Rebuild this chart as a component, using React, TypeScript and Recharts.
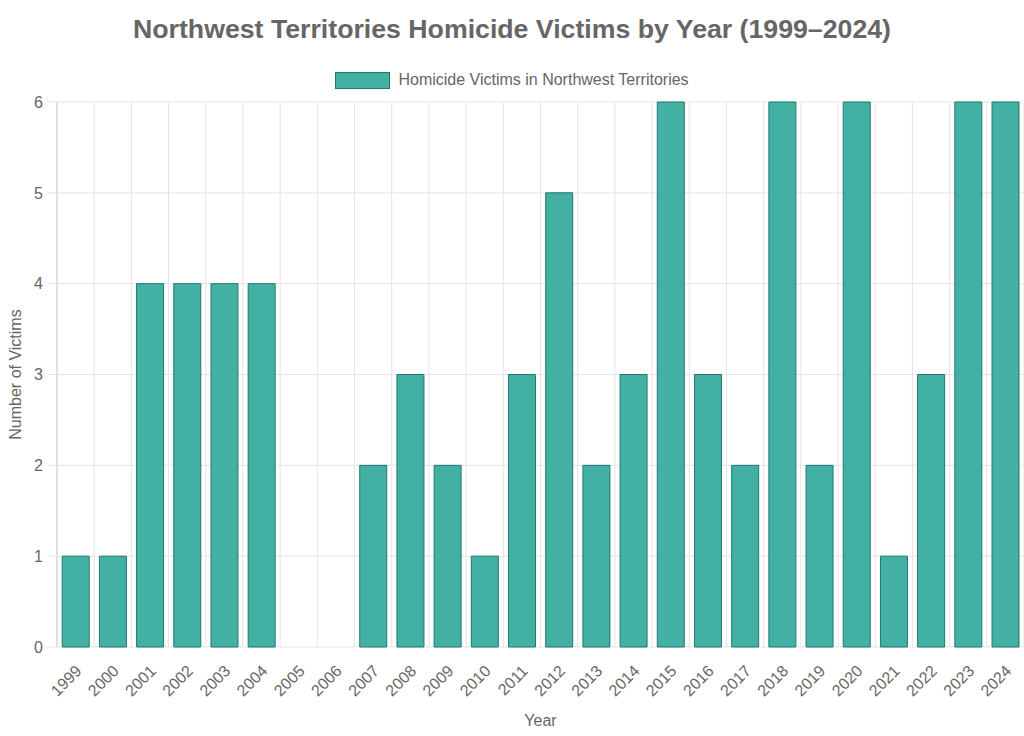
import React from 'react';
import { BarChart, Bar, XAxis, YAxis, CartesianGrid, Legend } from 'recharts';

const years = [
    '1999', '2000', '2001', '2002', '2003', '2004', '2005', '2006', '2007',
    '2008', '2009', '2010', '2011', '2012', '2013', '2014', '2015', '2016',
    '2017', '2018', '2019', '2020', '2021', '2022', '2023', '2024',
];
const victims = [1, 1, 4, 4, 4, 4, 0, 0, 2, 3, 2, 1, 3, 5, 2, 3, 6, 3, 2, 6, 2, 6, 1, 3, 6, 6];
const yTicks = [0, 1, 2, 3, 4, 5, 6];
// boundaries between categories, used for the vertical grid
const boundaries = years.map((_, i) => i).concat(years.length);

const data = years.map((year, i) => ({
    year,
    victims: victims[i],
    slot: i + 0.5,
}));

const FONT = '"Liberation Sans", Arial, Helvetica, sans-serif';
const TEXT = '#666666';
const FILL = '#43b0a4';
const BORDER = '#1f7a6f';
const GRID = '#e4e4e4';

const YearTick = ({ x, y, payload }: any) => (
    <g transform={`translate(${x + 3},${y + 13})`}>
        <text
            transform="rotate(-45)"
            textAnchor="end"
            dy="0.35em"
            fill={TEXT}
            fontSize={16}
            fontFamily={FONT}
        >
            {payload.value}
        </text>
    </g>
);

const LegendBox = () => (
    <div
        style={{
            display: 'flex',
            justifyContent: 'center',
            alignItems: 'center',
            fontFamily: FONT,
            fontSize: 16,
            color: TEXT,
        }}
    >
        <span
            style={{
                display: 'inline-block',
                width: 55,
                height: 17,
                boxSizing: 'border-box',
                background: FILL,
                border: `1px solid ${BORDER}`,
                marginRight: 8,
            }}
        />
        <span>Homicide Victims in Northwest Territories</span>
    </div>
);

export default function App() {
    return (
        <div style={{ position: 'absolute', left: 0, top: 0, width: 1024, height: 736, background: '#fff' }}>
            <div
                style={{
                    position: 'absolute',
                    top: 13,
                    left: 0,
                    width: 1024,
                    textAlign: 'center',
                    fontFamily: FONT,
                    fontWeight: 'bold',
                    fontSize: 26.7,
                    lineHeight: '32px',
                    color: TEXT,
                }}
            >
                Northwest Territories Homicide Victims by Year (1999–2024)
            </div>
            <BarChart
                width={1024}
                height={736}
                data={data}
                margin={{ top: 102, right: 0, bottom: 0, left: 0 }}
                barCategoryGap="14%"
            >
                <CartesianGrid xAxisId="grid" stroke={GRID} strokeWidth={1} />
                <XAxis
                    xAxisId="grid"
                    type="number"
                    dataKey="slot"
                    domain={[0, years.length]}
                    ticks={boundaries}
                    interval={0}
                    height={0}
                    tickSize={11}
                    tickFormatter={() => ''}
                    tickLine={{ stroke: GRID }}
                    axisLine={{ stroke: '#d0d0d0' }}
                />
                <XAxis
                    xAxisId="cat"
                    dataKey="year"
                    interval={0}
                    height={89}
                    tickLine={false}
                    axisLine={false}
                    tick={<YearTick />}
                    label={({ viewBox }: any) => (
                        <text
                            x={viewBox.x + viewBox.width / 2}
                            y={720}
                            textAnchor="middle"
                            dominantBaseline="central"
                            fill={TEXT}
                            fontSize={16}
                            fontFamily={FONT}
                        >
                            Year
                        </text>
                    )}
                />
                <YAxis
                    width={57}
                    domain={[0, 6]}
                    ticks={yTicks}
                    allowDecimals={false}
                    tickSize={9}
                    tickMargin={5}
                    tickLine={{ stroke: GRID }}
                    axisLine={{ stroke: '#d0d0d0' }}
                    tick={{ fill: TEXT, fontSize: 16, fontFamily: FONT }}
                    label={({ viewBox }: any) => {
                        const cx = 15;
                        const cy = viewBox.y + viewBox.height / 2;
                        return (
                            <text
                                x={cx}
                                y={cy}
                                transform={`rotate(-90, ${cx}, ${cy})`}
                                textAnchor="middle"
                                dominantBaseline="central"
                                fill={TEXT}
                                fontSize={16}
                                fontFamily={FONT}
                            >
                                Number of Victims
                            </text>
                        );
                    }}
                />
                <Legend
                    layout="horizontal"
                    verticalAlign="middle"
                    align="center"
                    content={<LegendBox />}
                    wrapperStyle={{ top: 71, left: 0, width: 1024, height: 18 }}
                />
                <Bar
                    xAxisId="cat"
                    dataKey="victims"
                    name="Homicide Victims in Northwest Territories"
                    fill={FILL}
                    stroke={BORDER}
                    strokeWidth={1}
                    isAnimationActive={false}
                />
            </BarChart>
        </div>
    );
}
